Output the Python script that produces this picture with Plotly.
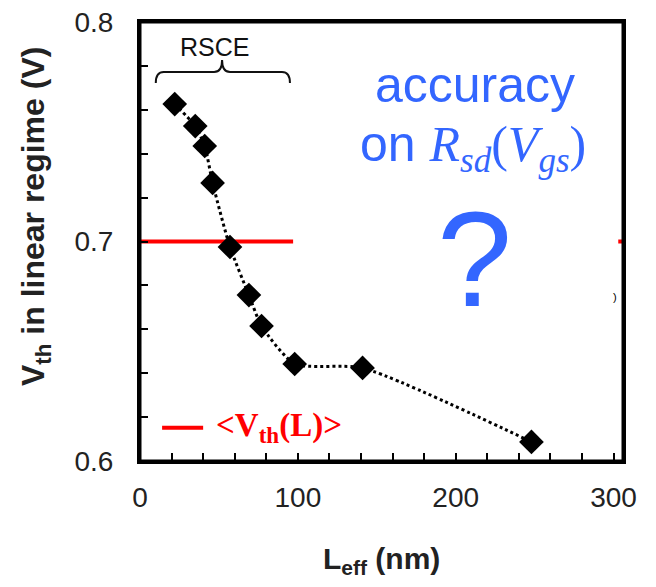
import plotly.graph_objects as go

# ---- data ----
l_eff = [22, 35, 41, 46, 57, 69, 77, 98, 141, 248]
vth = [0.7626, 0.7526, 0.7435, 0.7267, 0.6975, 0.6756, 0.6615, 0.6442, 0.6424, 0.6087]
vth_mean = 0.70
mean_line_x = [0, 97]
mean_stub_x = [303, 306]
x_ticks = [0, 100, 200, 300]
y_ticks = [0.6, 0.7, 0.8]
y_tick_labels = ["0.6", "0.7", "0.8"]
x_range = [0, 306]
y_range = [0.6, 0.8]

# annotation anchors (data units)
brace_x0, brace_xm, brace_x1 = 10, 52, 95
brace_ytip, brace_ymid, brace_yend = 0.7827, 0.7772, 0.7722
legend_line_x = [14, 40]
legend_y = 0.6152

BLUE = "#3366ff"
fig = go.Figure()

fig.add_trace(go.Scatter(x=mean_line_x, y=[vth_mean] * 2, mode="lines",
                         line=dict(color="#ff0000", width=4), showlegend=False))
fig.add_trace(go.Scatter(x=mean_stub_x, y=[vth_mean] * 2, mode="lines",
                         line=dict(color="#ff0000", width=4), showlegend=False))
fig.add_trace(go.Scatter(x=l_eff, y=vth, mode="lines",
                         line=dict(color="black", width=3, dash="dot", shape="spline", smoothing=0.6),
                         showlegend=False))
fig.add_trace(go.Scatter(x=l_eff, y=vth, mode="markers",
                         marker=dict(symbol="diamond", size=19, color="black"),
                         showlegend=False))
fig.add_trace(go.Scatter(x=legend_line_x, y=[legend_y] * 2, mode="lines",
                         line=dict(color="#ff0000", width=4), showlegend=False))

# brace
bw = (brace_xm - brace_x0) * 0.12
path = (f"M {brace_x0},{brace_yend} Q {brace_x0},{brace_ymid} {brace_x0+bw},{brace_ymid} "
        f"L {brace_xm-bw},{brace_ymid} Q {brace_xm},{brace_ymid} {brace_xm},{brace_ytip} "
        f"Q {brace_xm},{brace_ymid} {brace_xm+bw},{brace_ymid} "
        f"L {brace_x1-bw},{brace_ymid} Q {brace_x1},{brace_ymid} {brace_x1},{brace_yend}")
fig.add_shape(type="path", path=path, xref="x", yref="y",
              line=dict(color="#111", width=2))
# plot frame
fig.add_shape(type="rect", xref="paper", yref="paper", x0=0, x1=1, y0=0, y1=1,
              line=dict(color="black", width=3), layer="above")

ann = [
    dict(x=brace_xm - 5, y=0.7885, text="RSCE", font=dict(family="Liberation Sans", size=25, color="#111")),
    dict(x=legend_line_x[1] + 7, y=legend_y, xanchor="left",
         text="&lt;V<sub>th</sub>(L)&gt;",
         font=dict(family="Liberation Serif", size=33, color="#ff0000", weight="bold")),
    dict(x=212, y=0.7713, text="accuracy", font=dict(family="Liberation Sans", size=50, color=BLUE)),
    dict(x=211, y=0.7426,
         text="on <span style='font-family:Liberation Serif'><i>R<sub>sd</sub></i>(<i>V<sub>gs</sub></i>)</span>",
         font=dict(family="Liberation Sans", size=50, color=BLUE)),
    dict(x=212, y=0.6916, text="?", font=dict(family="Liberation Sans", size=135, color=BLUE)),
    dict(x=301, y=0.6747, text=")", font=dict(family="Liberation Sans", size=11, color="black")),
]
for a in ann:
    a.setdefault("xanchor", "center")
    a.update(showarrow=False, xref="x", yref="y", yanchor="middle")
    fig.add_annotation(**a)

fig.add_annotation(xref="paper", yref="paper", x=-0.215, y=0.556, textangle=-90,
                   xanchor="center", yanchor="middle",
                   text="<b>V<sub>th</sub> in linear regime (V)</b>", showarrow=False,
                   font=dict(family="Liberation Sans", size=32, color="#222"))
fig.add_annotation(xref="paper", yref="paper", x=0.5, y=-0.226,
                   xanchor="center", yanchor="middle",
                   text="<b>L<sub>eff</sub> (nm)</b>", showarrow=False,
                   font=dict(family="Liberation Sans", size=30, color="#222"))

axis_common = dict(showgrid=False, zeroline=False, showline=True, linecolor="black",
                   linewidth=3, mirror=True, ticks="inside", ticklen=8, tickwidth=1.5,
                   tickcolor="black", ticklabeloverflow="allow",
                   tickfont=dict(family="Liberation Sans", size=28, color="#222"))
fig.update_xaxes(range=x_range, tickvals=x_ticks, ticklabelstandoff=9,
                 minor=dict(dtick=20, ticks="inside", ticklen=8, tickwidth=1.5, tickcolor="black"),
                 **axis_common)
fig.update_yaxes(range=y_range, tickvals=y_ticks, ticktext=y_tick_labels, ticklabelstandoff=18,
                 minor=dict(dtick=0.02, ticks="inside", ticklen=8, tickwidth=1.5, tickcolor="black"),
                 **axis_common)

# page body has an 8px margin: keep the figure inside the window so nothing scrolls
fig.update_layout(width=640, height=571,
                  margin=dict(l=132, r=25, t=14, b=118, autoexpand=False),
                  plot_bgcolor="white", paper_bgcolor="white")
fig.write_html("out.html")
